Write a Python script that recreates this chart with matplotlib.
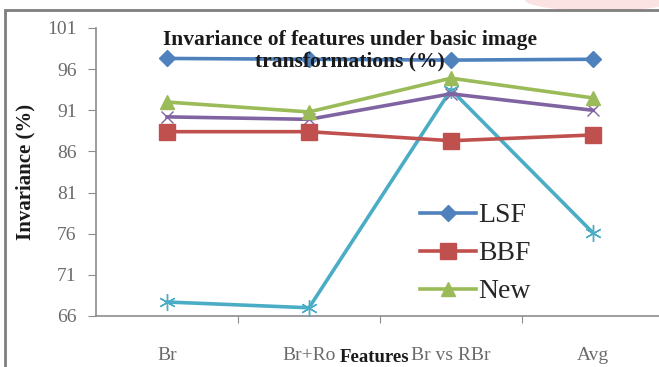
import matplotlib
matplotlib.use("Agg")
import matplotlib.pyplot as plt
from matplotlib.patches import Rectangle, Ellipse
from matplotlib.font_manager import FontProperties

categories = ["Br", "Br+Ro", "Br vs RBr", "Avg"]
lsf = [97.3, 97.2, 97.1, 97.2]
bbf = [88.4, 88.4, 87.3, 88.0]
new = [92.0, 90.8, 94.9, 92.5]
series4 = [90.2, 89.9, 93.0, 91.0]
series5 = [67.7, 67.0, 93.5, 76.1]
yticks = [66, 71, 76, 81, 86, 91, 96, 101]

serif = "Liberation Serif"
W, H = 659, 367
fig = plt.figure(figsize=(W / 100, H / 100), dpi=100)
fig.patch.set_facecolor("white")

# faint pink mark above the frame, top right
fig.patches.append(Ellipse((600 / W, 1.0), 150 / W, 22 / H, transform=fig.transFigure,
                           facecolor="#fbdcdc", edgecolor="none", alpha=0.8, zorder=-2))
# outer chart frame
fig.patches.append(Rectangle((5 / W, -0.05), 1.2, (H - 10) / H + 0.05,
                             transform=fig.transFigure, fill=False,
                             edgecolor="#7f7f7f", linewidth=2.0, zorder=-1))

x0, x1 = 96, 664
ytop, ybot = 28, 316
ax = fig.add_axes([x0 / W, 1 - ybot / H, (x1 - x0) / W, (ybot - ytop) / H])
ax.set_facecolor("none")

xs = list(range(len(categories)))
ax.plot(xs, series5, color="#4BACC6", lw=2.6, marker=(6, 2, 0), ms=12, mew=1.0, zorder=3)
ax.plot(xs, series4, color="#8064A2", lw=2.6, marker="x", ms=8, mew=1.0, zorder=3)
l_new, = ax.plot(xs, new, color="#9BBB59", lw=2.6, marker="^", ms=10, zorder=4)
l_bbf, = ax.plot(xs, bbf, color="#C0504D", lw=2.6, marker="s", ms=11, zorder=4)
l_lsf, = ax.plot(xs, lsf, color="#4F81BD", lw=2.6, marker="D", ms=8.5, zorder=5)

ax.set_xlim(-0.5, len(categories) - 0.5)
ax.set_ylim(66, 101)
ax.set_yticks(yticks)
ax.set_yticklabels([str(v) for v in yticks], fontfamily=serif, fontsize=14, color="#6b6b6b")
ax.set_xticks([i + 0.5 for i in range(len(categories) - 1)])
ax.set_xticklabels([])
ax.set_xticks(xs, minor=True)
ax.set_xticklabels(categories, minor=True, fontfamily=serif, fontsize=14, color="#6b6b6b")
ax.tick_params(axis="x", which="minor", length=0, pad=22)
ax.tick_params(axis="x", which="major", length=5, color="#8c8c8c", direction="out")
ax.tick_params(axis="y", length=6, color="#8c8c8c", direction="out", pad=8)

for s in ["top", "right"]:
    ax.spines[s].set_visible(False)
for s in ["left", "bottom"]:
    ax.spines[s].set_color("#8c8c8c")
    ax.spines[s].set_linewidth(1.2)

fig.text(350 / W, 1 - 51 / H, "Invariance of features under basic image\ntransformations (%)",
         ha="center", va="center", fontfamily=serif, fontweight="bold",
         fontsize=15.5, linespacing=1.08, color="#1a1a1a", zorder=6)
fig.text(25 / W, 1 - 172 / H, "Invariance (%)", rotation=90, ha="center", va="center",
         fontfamily=serif, fontweight="bold", fontsize=15, color="#1a1a1a")
fig.text(375 / W, 1 - 358 / H, "Features", ha="center", va="center",
         fontfamily=serif, fontweight="bold", fontsize=13.5, color="#1a1a1a")

leg = ax.legend([l_lsf, l_bbf, l_new], ["LSF", "BBF", "New"],
                loc="upper left",
                bbox_to_anchor=((420 - x0) / (x1 - x0), (ybot - 203) / (ybot - ytop)),
                frameon=True, facecolor="white", edgecolor="none", framealpha=1.0,
                handlelength=2.0, handletextpad=0.1, labelspacing=0.45,
                borderpad=0.0, prop=FontProperties(family=serif, size=20),
                borderaxespad=0)
for t in leg.get_texts():
    t.set_color("#262626")
    t.set_fontfamily(serif)

fig.savefig("out.png", dpi=100, facecolor="white")
